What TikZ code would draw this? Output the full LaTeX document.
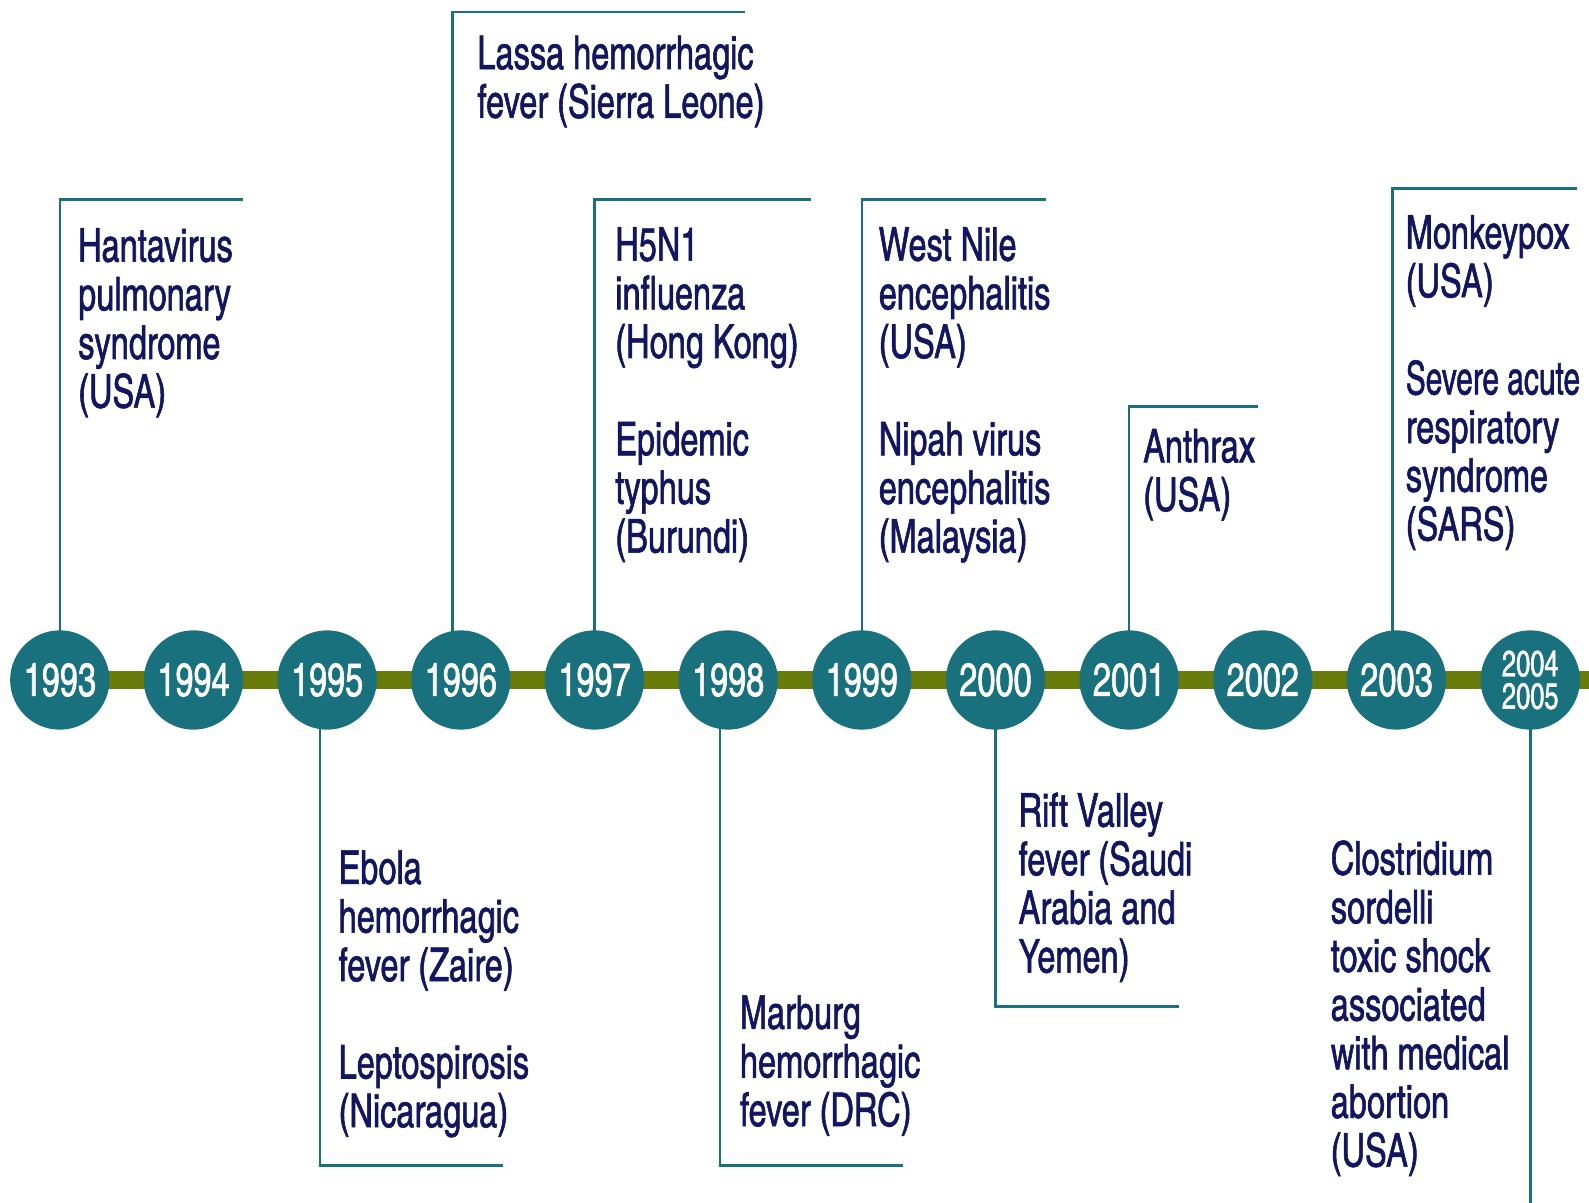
\documentclass[tikz,border=0pt]{standalone}
\usepackage{fontspec}
\setmainfont{texgyreheroscn-regular.otf}[FakeStretch=0.85,FakeBold=1.2]
\usetikzlibrary{backgrounds}
\definecolor{yearteal}{HTML}{1A717E}
\definecolor{barolive}{HTML}{677A0A}
\definecolor{textnavy}{HTML}{12165E}
\tikzset{
	year/.style={circle,fill=yearteal,text=white,minimum size=98pt,inner sep=0pt,
		font=\fontsize{46}{48}\selectfont},
	note/.style={anchor=north west,align=left,inner sep=0pt,text=textnavy,
		font=\fontsize{46}{48}\selectfont},
	stem/.style={draw=yearteal,line width=2.5pt}
}
\begin{document}
\begin{tikzpicture}[x=1pt,y=-1pt]
		\useasboundingbox (0,0) rectangle (1568,1187);
		% years
		\foreach \yr [count=\i from 0] in {1993,...,2003}
			\node[year] (y\yr) at ({59+131.9*\i},671) {\yr};
		\node[year,align=center,font=\fontsize{36}{32}\selectfont] (y0405) at (1510,671) {2004\\2005};
		% ends of the stems
		\coordinate (e93) at (240,197);
		\coordinate (e96) at (735,12);
		\coordinate (e97) at (800,197);
		\coordinate (e99) at (1032,197);
		\coordinate (e01) at (1241,401);
		\coordinate (e03) at (1556,186);
		\coordinate (e95) at (496,1150);
		\coordinate (e98) at (891,1150);
		\coordinate (e00) at (1163,993);
		\coordinate (e05) at (1510,1187);
		\begin{pgfonlayer}{background}
			% bar
			\draw[barolive,line width=18pt] (y1993.center) -- (1568,671);
			% stems
			\draw[stem] (y1993.center) |- (e93);
			\draw[stem] ([xshift=-8pt]y1996.center) |- (e96);
			\draw[stem] (y1997.center) |- (e97);
			\draw[stem] (y1999.center) |- (e99);
			\draw[stem] (y2001.center) |- (e01);
			\draw[stem] ([xshift=-4pt]y2003.center) |- (e03);
			\draw[stem] ([xshift=-7pt]y1995.center) |- (e95);
			\draw[stem] ([xshift=-8pt]y1998.center) |- (e98);
			\draw[stem] (y2000.center) |- (e00);
			\draw[stem] (y0405.center) -- (e05);
		\end{pgfonlayer}
		% notes above
		\node[note] (t93) at (77,225) {Hantavirus\\pulmonary\\syndrome\\(USA)};
		\node[note] (t96) at (471,35) {Lassa hemorrhagic\\fever (Sierra Leone)};
		\node[note] (t97) at (607,224) {H5N1\\influenza\\(Hong Kong)\\[48pt]Epidemic\\typhus\\(Burundi)};
		\node[note] (t99) at (867,224) {West Nile\\encephalitis\\(USA)\\[48pt]Nipah virus\\encephalitis\\(Malaysia)};
		\node[note] (t01) at (1128,423) {Anthrax\\(USA)};
		\node[note] (t03) at (1387,212) {Monkeypox\\(USA)\\[48pt]\scalebox{0.92}[1]{Severe acute}\\respiratory\\syndrome\\(SARS)};
		% notes below
		\node[note] (t95) at (334,839) {Ebola\\hemorrhagic\\fever (Zaire)\\[48pt]Leptospirosis\\(Nicaragua)};
		\node[note] (t98) at (730,982) {Marburg\\hemorrhagic\\fever (DRC)};
		\node[note] (t00) at (1005,782) {Rift Valley\\fever (Saudi\\Arabia and\\Yemen)};
		\node[note] (t05) at (1313,829) {Clostridium\\sordelli\\toxic shock\\associated\\with medical\\abortion\\(USA)};
	\end{tikzpicture}
\end{document}
